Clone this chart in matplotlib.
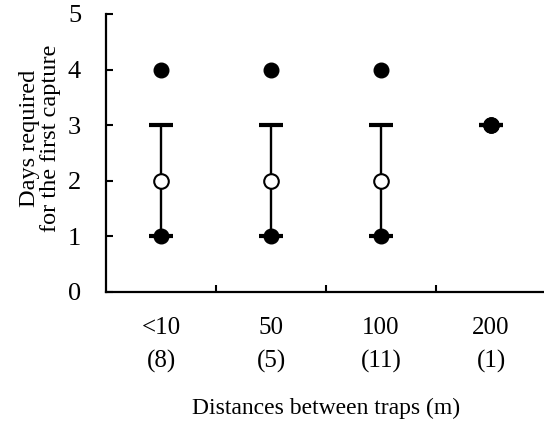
import matplotlib
matplotlib.use('Agg')
import matplotlib.pyplot as plt

# данные
categories = ['<10', '50', '100', '200']
counts = [8, 5, 11, 1]
median = [2, 2, 2, 3]
lower = [1, 1, 1, 3]
upper = [3, 3, 3, 3]
min_days = [1, 1, 1, 3]
max_days = [4, 4, 4, 3]

plt.rcParams['font.family'] = ['Liberation Serif', 'DejaVu Serif']

fig = plt.figure(figsize=(5.44, 4.30), dpi=100)
ax = fig.add_axes([106 / 544, 1 - 292 / 430, 440 / 544, 278 / 430])

x = list(range(len(categories)))
err_lo = [m - l for m, l in zip(median, lower)]
err_hi = [u - m for m, u in zip(median, upper)]

# усы с засечками
ax.errorbar(x, median, yerr=[err_lo, err_hi], fmt='none', ecolor='black',
            elinewidth=1.7, capsize=8.5, capthick=3, zorder=2)
# медиана - пустой кружок
ax.plot(x, median, 'o', markersize=10.5, markerfacecolor='white',
        markeredgecolor='black', markeredgewidth=1.5, linestyle='none', zorder=3)
# минимум и максимум - чёрные точки
ax.plot(x, min_days, 'o', markersize=10.5, color='black', linestyle='none', zorder=4)
ax.plot(x, max_days, 'o', markersize=10.5, color='black', linestyle='none', zorder=4)

ax.set_xlim(-0.5, 3.5)
ax.set_ylim(0, 5)
ax.set_yticks([0, 1, 2, 3, 4, 5])

ax.set_xticks([0.5, 1.5, 2.5])
ax.set_xticklabels([])
ax.set_xticks(x, minor=True)
ax.set_xticklabels([c + '\n(' + str(n) + ')' for c, n in zip(categories, counts)],
                   minor=True, fontsize=18, linespacing=1.6)
ax.tick_params(axis='x', which='minor', length=0, pad=18)
ax.tick_params(axis='x', which='major', direction='in', length=5, width=1.5)
ax.tick_params(axis='y', direction='in', length=5, width=1.5, labelsize=19, pad=18)

for s in ['top', 'right']:
    ax.spines[s].set_visible(False)
for s in ['left', 'bottom']:
    ax.spines[s].set_linewidth(1.6)

fig.text(40 / 544, 1 - 138 / 430, 'Days required\nfor the first capture',
         rotation=90, ha='center', va='center', fontsize=17.5, linespacing=0.95)
fig.text(326 / 544, 1 - 408 / 430, 'Distances between traps (m)',
         ha='center', va='center', fontsize=17)

fig.savefig('out.png', dpi=100)
